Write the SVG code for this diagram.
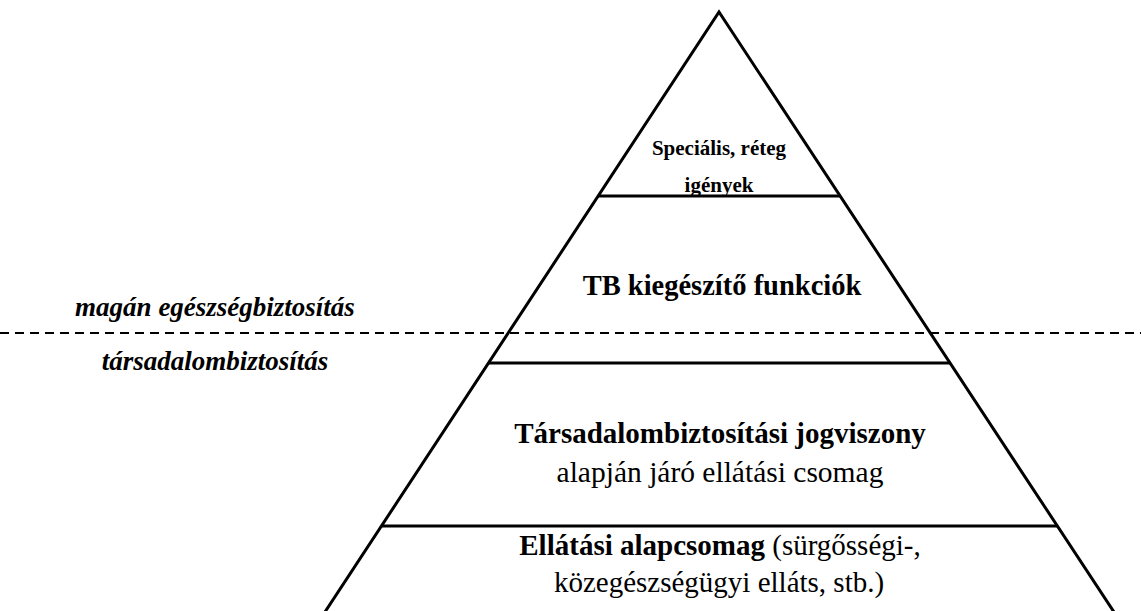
<svg xmlns="http://www.w3.org/2000/svg" width="1141" height="611" viewBox="0 0 1141 611">
<style>
.t{font-family:"Liberation Serif","Times New Roman",serif;fill:#000;text-anchor:middle}
.b{font-weight:bold}
.i{font-style:italic;font-weight:bold}
.ln{stroke:#000;stroke-width:3;fill:none}
.dash{stroke:#000;stroke-width:2;stroke-dasharray:9 6;fill:none}
</style>
<rect width="1141" height="611" fill="#fff"/>
<g id="connectors">
<path class="ln" d="M300 650 L719 12 L1139 650"/>
<line class="ln" x1="598" y1="196" x2="840" y2="196"/>
<line class="ln" x1="489" y1="363" x2="950" y2="363"/>
<line class="ln" x1="382" y1="526" x2="1057" y2="526"/>
<line class="dash" x1="0" y1="333" x2="1141" y2="333"/>
</g>
<g id="level-special">
<text class="t b" x="719" y="155" font-size="21">Speciális, réteg</text>
<text class="t b" x="719" y="192" font-size="21">igények</text>
</g>
<g id="level-tb-kieg">
<text class="t b" x="722" y="295" font-size="28.5">TB kiegészítő funkciók</text>
</g>
<g id="level-tb-jog">
<text class="t b" x="720" y="443" font-size="29">Társadalombiztosítási jogviszony</text>
<text class="t" x="720" y="482" font-size="29.5">alapján járó ellátási csomag</text>
</g>
<g id="level-alap">
<text class="t" x="720" y="555" font-size="29"><tspan font-weight="bold">Ellátási alapcsomag</tspan> (sürgősségi-,</text>
<text class="t" x="719" y="592" font-size="29">közegészségügyi elláts, stb.)</text>
</g>
<g id="label-magan">
<text class="t i" x="215" y="316" font-size="27">magán egészségbiztosítás</text>
</g>
<g id="label-tb">
<text class="t i" x="215" y="370" font-size="27">társadalombiztosítás</text>
</g>
</svg>
